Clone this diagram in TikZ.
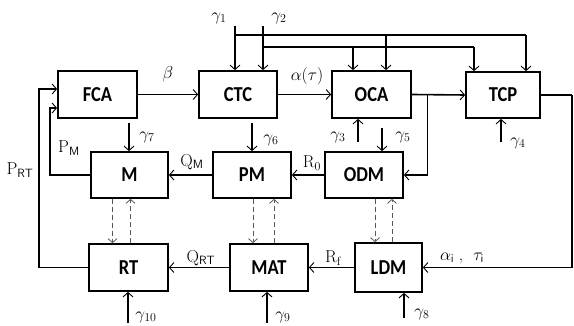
\documentclass[tikz,border=0pt]{standalone}
\usepackage{fontspec}
\newfontfamily\boxfont{Carlito}
\usetikzlibrary{arrows.meta,calc}
\newcommand\bxt[1]{\scalebox{1}[1.15]{#1}}
\begin{document}
\begin{tikzpicture}[x=1pt,y=-1pt,
  blk/.style={draw,line width=1.7pt,inner sep=0pt,font=\boxfont\bfseries\fontsize{18.5}{18.5}\selectfont},
  ln/.style={line width=1.6pt},
  arr/.style={ln,-{Straight Barb[length=4.5pt,width=10pt,line width=0.9pt]}},
  darr/.style={draw=black!65,line width=1pt,dash pattern=on 5pt off 3pt,-{Straight Barb[length=4pt,width=9pt,line width=0.8pt]}},
  lab/.style={inner sep=0pt,font=\LARGE}]
\useasboundingbox (0,0) rectangle (574,326);
% boxes
\node[blk,minimum width=79pt,minimum height=47pt] (FCA) at (97.5,94.5) {\bxt{FCA}};
\node[blk,minimum width=78pt,minimum height=47pt] (CTC) at (238,94.5) {\bxt{CTC}};
\node[blk,minimum width=79pt,minimum height=47pt] (OCA) at (371.5,94.5) {\bxt{OCA}};
\node[blk,minimum width=74pt,minimum height=46pt] (TCP) at (503,95) {\bxt{TCP}};
\node[blk,minimum width=77pt,minimum height=46pt] (M) at (129.5,175) {\bxt{M}};
\node[blk,minimum width=78pt,minimum height=46pt] (PM) at (252,175) {\bxt{PM}};
\node[blk,minimum width=78pt,minimum height=46pt] (ODM) at (364,175) {\bxt{ODM}};
\node[blk,minimum width=79pt,minimum height=47pt] (RT) at (128.5,267.5) {\bxt{RT}};
\node[blk,minimum width=78pt,minimum height=47pt] (MAT) at (269,267.5) {\bxt{MAT}};
\node[blk,minimum width=67pt,minimum height=49pt] (LDM) at (388.5,267.5) {\bxt{LDM}};
% main chain
\draw[arr] (FCA.east) -- (CTC.west);
\draw[arr] (CTC.east) -- (OCA.west);
\draw[arr] (OCA.east) -- (TCP.west);
\path (OCA.east) -- (TCP.west) coordinate[pos=0.29] (br);
\draw[arr] (br) |- (ODM.east);
\coordinate (re) at (572,95);
\draw[ln] (TCP.east) -- (TCP.east -| re);
\draw[arr] (TCP.east -| re) |- (LDM.east);
\draw[arr] (ODM.west) -- (PM.east);
\draw[arr] (PM.west) -- (M.east);
\draw[arr] (LDM.west) -- (MAT.east);
\draw[arr] (MAT.west) -- (RT.west -| RT.east);
% feedbacks
\coordinate (prt) at (39,89);
\coordinate (ppm) at (50,108);
\draw[arr] (RT.west) -| (prt) -- (FCA.west |- prt);
\draw[arr] (M.west) -| (ppm) -- (FCA.west |- ppm);
% gamma 1,2
\coordinate (g1) at (235,26);
\coordinate (g2) at (263,26);
\coordinate (h1) at (235,35);
\coordinate (h2) at (263,47);
\coordinate (t1) at (526,35);
\coordinate (t2) at (474,47);
\coordinate (o1) at (386,35);
\coordinate (o2) at (353,47);
\draw[arr] (g1) -- (CTC.north -| g1);
\draw[arr] (g2) -- (CTC.north -| g2);
\draw[ln] (h1) -- (t1);
\draw[ln] (h2) -- (t2);
\draw[arr] (t1) -- (TCP.north -| t1);
\draw[arr] (t2) -- (TCP.north -| t2);
\draw[arr] (o1) -- (OCA.north -| o1);
\draw[arr] (o2) -- (OCA.north -| o2);
\node[lab] (lg1) at (219,18) {$\gamma_1$};
\node[lab] (lg2) at (279,18) {$\gamma_2$};
% other gamma inputs
\coordinate (g7) at (129,123);
\coordinate (g6) at (252,123);
\coordinate (g3) at (358,142);
\coordinate (g5) at (382,128);
\coordinate (g4) at (501,142);
\coordinate (g10) at (128,323);
\coordinate (g9) at (267,323);
\coordinate (g8) at (404,318);
\draw[arr] (g7) -- (M.north -| g7);
\draw[arr] (g6) -- (PM.north -| g6);
\draw[arr] (g3) -- (OCA.south -| g3);
\draw[arr] (g5) -- (ODM.north -| g5);
\draw[arr] (g4) -- (TCP.south -| g4);
\draw[arr] (g10) -- (RT.south -| g10);
\draw[arr] (g9) -- (MAT.south -| g9);
\draw[arr] (g8) -- (LDM.south -| g8);
\node[lab] (lg7) at (147,137) {$\gamma_7$};
\node[lab] (lg6) at (271,140) {$\gamma_6$};
\node[lab] (lg3) at (338,137) {$\gamma_3$};
\node[lab] (lg5) at (403,137) {$\gamma_5$};
\node[lab] (lg4) at (518,143) {$\gamma_4$};
\node[lab] (lg10) at (146,317) {$\gamma_{10}$};
\node[lab] (lg9) at (283,317) {$\gamma_9$};
\node[lab] (lg8) at (422,314) {$\gamma_8$};
% dashed links
\draw[darr] ([xshift=-17pt]M.south) -- ([xshift=-17pt]M.south |- RT.north);
\draw[darr] ([xshift=1pt]M.south |- RT.north) -- ([xshift=1pt]M.south);
\draw[darr] ([xshift=1pt]PM.south) -- ([xshift=1pt]PM.south |- MAT.north);
\draw[darr] ([xshift=22pt]PM.south |- MAT.north) -- ([xshift=22pt]PM.south);
\draw[darr] ([xshift=11pt]ODM.south) -- ([xshift=11pt]ODM.south |- LDM.north);
\draw[darr] ([xshift=28pt]ODM.south |- LDM.north) -- ([xshift=28pt]ODM.south);
% connector labels
\node[lab] (lbeta) at (168,74) {$\beta$};
\node[lab] (lalpha) at (307,76) {$\alpha(\tau)$};
\node[lab] (lpm) at (69,148) {$\mathrm{P}_{\mathsf{M}}$};
\node[lab] (lprt) at (20,170) {$\mathrm{P}_{\mathsf{RT}}$};
\node[lab] (lqm) at (192,162) {$\mathrm{Q}_{\mathsf{M}}$};
\node[lab] (lr0) at (312,163) {$\mathrm{R}_0$};
\node[lab] (lqrt) at (201,258) {$\mathrm{Q}_{\mathsf{RT}}$};
\node[lab] (lrf) at (333,258) {$\mathrm{R}_{\mathrm{f}}$};
\node[lab] (lai) at (462,258) {$\alpha_{\mathsf{i}}$\;,\; $\tau_{\mathsf{i}}$};
\end{tikzpicture}
\end{document}
